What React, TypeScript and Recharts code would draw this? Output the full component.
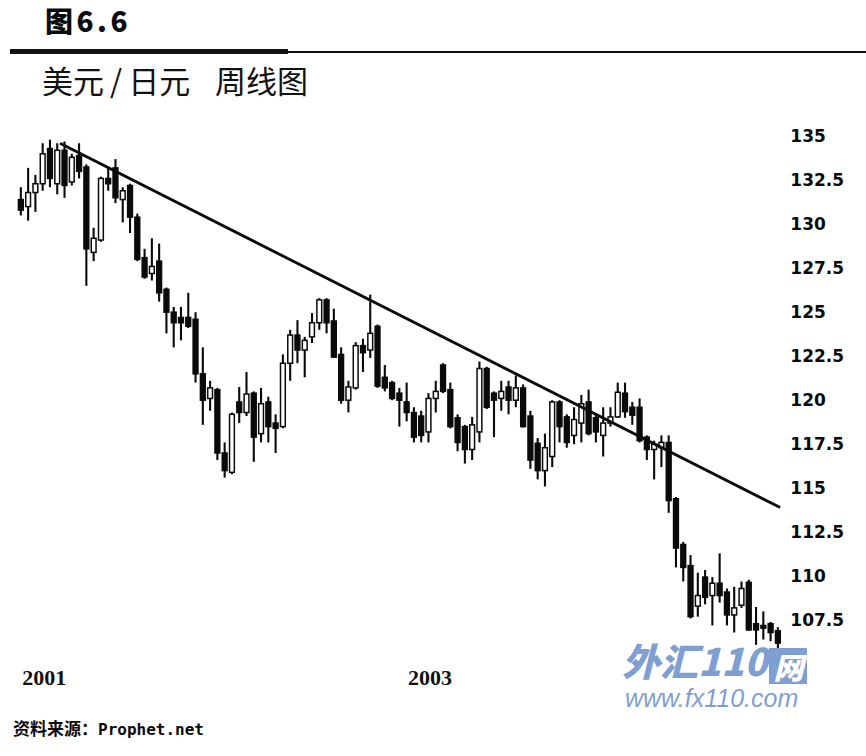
import React from "react";
import { Bar, ComposedChart, ReferenceLine, XAxis, YAxis } from "recharts";

// weekly USD/JPY candles (week 1 = left edge)
const opens = [
  131.4, 131.0, 131.8, 132.3, 134.3, 132.3, 134.2, 132.4, 133.9, 133.25,
  128.4, 129.1, 132.6, 133.2, 131.4, 132.2, 130.4, 128.1, 127.2, 127.9,
  126.3, 125.0, 124.7, 124.7, 124.6, 121.5, 120.1, 120.6, 117.0, 115.9,
  119.9, 119.3, 120.4, 118.1, 119.9, 118.7, 118.5, 122.1, 123.7, 122.85,
  123.6, 124.4, 125.7, 124.5, 122.6, 120.0, 120.7, 123.1, 122.85, 124.2,
  121.3, 121.0, 120.4, 119.9, 119.3, 119.1, 118.2, 120.1, 122.0, 120.6,
  119.0, 118.5, 117.2, 118.2, 121.8, 120.4, 120.1, 120.75, 120.0, 120.7,
  119.1, 117.55, 116.0, 116.8, 119.9, 119.05, 118.0, 118.7, 119.9, 119.0,
  118.0, 118.7, 119.05, 120.4, 119.6, 119.6, 117.9, 117.2, 117.3, 117.6,
  114.4, 111.8, 110.6, 108.3, 109.95, 108.9, 109.6, 109.1, 107.8, 108.35,
  109.65, 107.3, 107.2, 107.3, 106.9,
];
const highs = [
  132.1, 133.2, 132.8, 134.6, 134.8, 134.6, 134.7, 134.0, 134.6, 133.4,
  129.8, 132.7, 133.25, 133.7, 132.1, 132.3, 130.6, 128.6, 129.2, 128.9,
  126.4, 125.3, 125.3, 126.1, 125.0, 123.0, 121.1, 120.7, 117.6, 119.3,
  120.75, 121.6, 120.5, 120.7, 120.2, 119.2, 122.6, 124.0, 124.55, 123.6,
  124.95, 125.8, 125.8, 125.2, 123.0, 121.1, 123.3, 123.5, 126.0, 124.3,
  122.0, 121.1, 120.7, 121.0, 119.6, 119.4, 120.4, 121.1, 122.1, 121.0,
  119.2, 118.6, 119.05, 122.2, 121.9, 120.5, 121.1, 121.1, 121.4, 120.9,
  119.4, 117.85, 118.1, 120.0, 120.0, 119.2, 119.6, 120.3, 120.6, 119.2,
  119.6, 119.6, 121.0, 121.0, 119.9, 120.1, 118.0, 117.7, 118.0, 118.0,
  114.5, 111.95, 111.2, 110.2, 110.35, 109.95, 111.3, 109.3, 109.4, 109.7,
  109.8, 108.25, 108.0, 107.4, 107.1,
];
const lows = [
  130.5, 130.2, 130.7, 131.9, 132.1, 131.7, 131.5, 132.2, 132.6, 126.5,
  127.9, 129.0, 131.9, 131.2, 130.1, 129.5, 127.9, 126.9, 126.8, 125.6,
  123.8, 123.0, 123.4, 124.1, 121.0, 118.6, 119.4, 116.6, 115.6, 115.8,
  118.7, 119.1, 116.5, 117.6, 117.6, 117.0, 118.4, 121.1, 122.1, 121.3,
  123.25, 124.0, 123.8, 122.4, 119.8, 119.3, 120.6, 121.6, 122.4, 120.7,
  120.5, 120.0, 118.5, 118.8, 117.6, 117.6, 117.6, 119.3, 120.4, 118.4,
  117.1, 116.4, 116.6, 117.6, 119.5, 117.9, 119.4, 119.2, 119.6, 118.45,
  116.1, 115.5, 115.1, 116.2, 117.6, 117.3, 117.5, 117.6, 118.0, 117.6,
  116.8, 118.5, 119.0, 119.0, 118.6, 117.6, 116.6, 115.5, 116.2, 113.6,
  110.5, 109.7, 107.6, 107.7, 108.4, 107.2, 108.5, 107.2, 106.8, 108.2,
  106.9, 106.1, 106.4, 106.3, 105.8,
];
const closes = [
  130.8, 131.8, 132.3, 134.0, 132.6, 134.2, 132.2, 133.8, 133.0, 128.6,
  129.2, 132.6, 132.3, 131.5, 131.9, 130.4, 128.0, 127.0, 127.6, 126.1,
  125.0, 124.4, 124.4, 124.2, 121.5, 120.0, 120.7, 117.0, 116.0, 119.2,
  119.3, 120.35, 117.9, 119.8, 118.5, 118.4, 122.1, 123.7, 122.85, 123.4,
  124.4, 125.7, 124.4, 122.45, 120.0, 120.75, 123.1, 122.7, 123.8, 120.8,
  120.7, 120.1, 120.0, 119.3, 117.9, 118.0, 120.1, 120.5, 120.5, 118.5,
  117.6, 117.2, 118.6, 121.8, 119.6, 120.0, 120.5, 120.0, 120.7, 118.5,
  116.6, 116.0, 117.3, 119.9, 118.5, 117.6, 118.9, 119.8, 118.1, 118.2,
  118.7, 119.05, 120.45, 119.35, 119.15, 117.7, 117.2, 117.5, 117.6, 114.3,
  111.6, 110.5, 107.7, 108.9, 108.8, 109.6, 108.9, 107.8, 108.2, 109.3,
  106.95, 106.95, 107.05, 106.8, 106.2,
];

const priceTicks = [107.5, 110, 112.5, 115, 117.5, 120, 122.5, 125, 127.5, 130, 132.5, 135];
const yearTicks = [4.2, 57.2];
const yearLabels = ["2001", "2003"];

// resistance line drawn on the original
const trendX = [6.36, 105.3];
const trendY = [134.6, 113.9];

const data = opens.map((o, i) => ({
  week: i + 1,
  open: o,
  high: highs[i],
  low: lows[i],
  close: closes[i],
  range: [lows[i], highs[i]],
}));

function Candle(props: any) {
  const { x, y, width, height, payload } = props;
  if (!payload) return null;
  const top = Math.min(y, y + height);
  const h = Math.abs(height);
  const span = payload.high - payload.low;
  const ratio = span > 0 ? h / span : 0;
  const yOf = (v: number) => top + (payload.high - v) * ratio;
  const cx = x + width / 2;
  const up = payload.close >= payload.open;
  const bTop = yOf(Math.max(payload.open, payload.close));
  const bBot = yOf(Math.min(payload.open, payload.close));
  const bh = Math.max(bBot - bTop, 2);
  const bw = 4.8;
  return (
    <g>
      <line x1={cx} x2={cx} y1={top} y2={top + h} stroke="#0a0a0a" strokeWidth={2.1} />
      <rect
        x={cx - bw / 2}
        y={bTop}
        width={bw}
        height={bh}
        fill={up ? "#ffffff" : "#0a0a0a"}
        stroke="#0a0a0a"
        strokeWidth={1.5}
      />
    </g>
  );
}

export default function App() {
  return (
    <div
      style={{
        position: "absolute",
        left: 0,
        top: 0,
        width: 866,
        height: 756,
        background: "#fff",
        overflow: "hidden",
      }}
    >
      <div
        style={{
          position: "absolute",
          left: 45,
          top: 3,
          fontFamily: "'Noto Sans CJK SC', sans-serif",
          fontWeight: 900,
          fontSize: 28,
          lineHeight: "34px",
          letterSpacing: 3.5,
          color: "#0a0a0a",
        }}
      >
        图6.6
      </div>
      <div style={{ position: "absolute", left: 10, top: 49, width: 278, height: 4.5, background: "#111" }} />
      <div style={{ position: "absolute", left: 288, top: 51, width: 578, height: 2, background: "#111" }} />
      <div
        style={{
          position: "absolute",
          left: 42,
          top: 60,
          fontFamily: "'Noto Sans CJK SC', sans-serif",
          fontSize: 31,
          lineHeight: "40px",
          color: "#111",
          whiteSpace: "nowrap",
        }}
      >
        美元<span style={{ margin: "0 6px" }}>/</span>日元
        <span style={{ marginLeft: 18 }}> 周线图</span>
      </div>

      <div style={{ position: "absolute", left: 0, top: 0 }}>
        <ComposedChart
          width={866}
          height={756}
          data={data}
          margin={{ top: 101, right: 20.7, bottom: 61.8, left: 13.7 }}
        >
          <XAxis
            dataKey="week"
            type="number"
            domain={[0, 106]}
            ticks={yearTicks}
            tickFormatter={(v: number) => yearLabels[yearTicks.indexOf(v)] ?? ""}
            axisLine={false}
            tickLine={false}
            tickSize={0}
            tickMargin={5}
            height={30}
            tick={{ fill: "#111", fontSize: 22, fontFamily: "'Liberation Serif', serif", fontWeight: 700 }}
          />
          <YAxis
            orientation="right"
            type="number"
            domain={[105, 137]}
            ticks={priceTicks}
            axisLine={false}
            tickLine={false}
            tickSize={3}
            tickMargin={2}
            width={60}
            tick={{ fill: "#0a0a0a", fontSize: 17, fontFamily: "'DejaVu Sans', sans-serif", fontWeight: 700, textAnchor: "start" }}
          />
          <Bar dataKey="range" barSize={5} shape={Candle} isAnimationActive={false} />
          <ReferenceLine
            segment={[
              { x: trendX[0], y: trendY[0] },
              { x: trendX[1], y: trendY[1] },
            ]}
            stroke="#0a0a0a"
            strokeWidth={2.8}
          />
        </ComposedChart>
      </div>

      <div
        style={{
          position: "absolute",
          left: 13,
          top: 716,
          fontSize: 17,
          lineHeight: "24px",
          fontWeight: 700,
          color: "#0a0a0a",
          whiteSpace: "nowrap",
        }}
      >
        <span style={{ fontFamily: "'Noto Sans CJK SC', sans-serif" }}>资料来源：</span>
        <span style={{ fontFamily: "'DejaVu Sans Mono', monospace", fontSize: 16 }}>Prophet.net</span>
      </div>

      <div
        style={{
          position: "absolute",
          left: 622,
          top: 638,
          fontFamily: "'Noto Sans CJK SC', sans-serif",
          fontWeight: 900,
          fontStyle: "italic",
          fontSize: 38,
          lineHeight: "44px",
          color: "#7f9fd3",
          whiteSpace: "nowrap",
        }}
      >
        外汇110
        <span
          style={{
            display: "inline-block",
            background: "#7f9fd3",
            color: "#fff",
            fontSize: 30,
            lineHeight: "36px",
            width: 38,
            textAlign: "center",
            marginLeft: 2,
            verticalAlign: "middle",
          }}
        >
          网
        </span>
      </div>
      <div
        style={{
          position: "absolute",
          left: 625,
          top: 685,
          fontFamily: "'Liberation Sans', Arial, sans-serif",
          fontStyle: "italic",
          fontSize: 25,
          lineHeight: "26px",
          color: "#7f9fd3",
          whiteSpace: "nowrap",
        }}
      >
        www.fx110.com
      </div>
    </div>
  );
}
